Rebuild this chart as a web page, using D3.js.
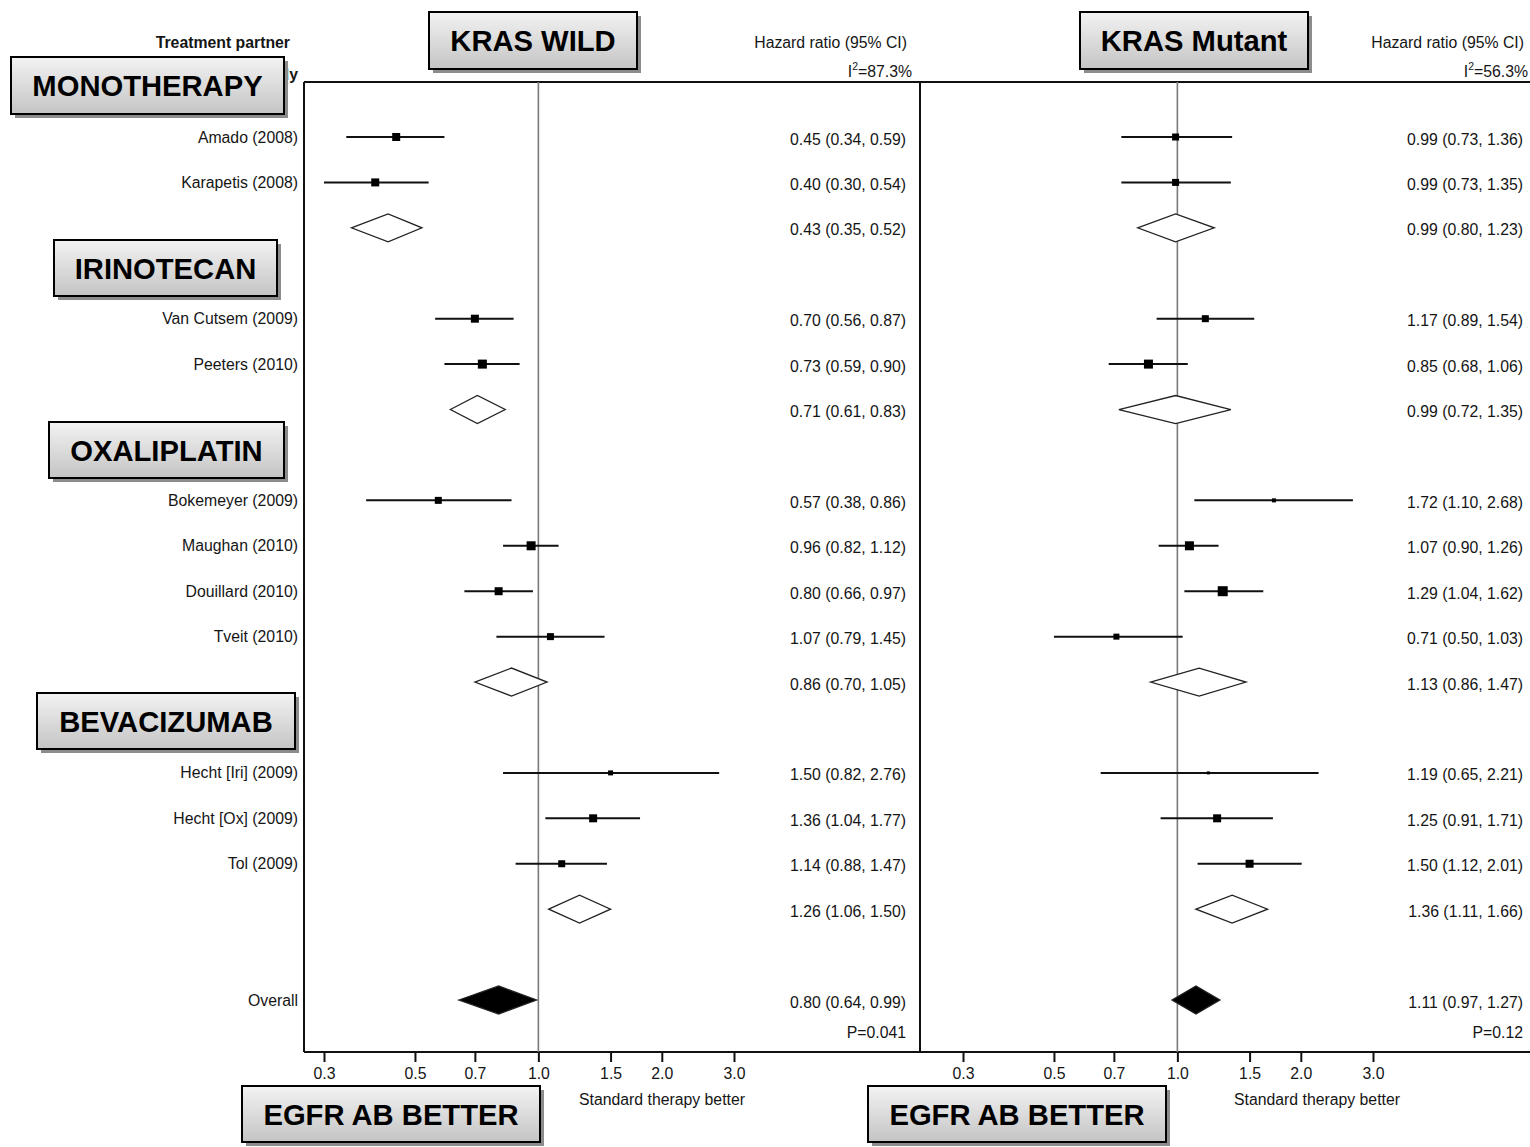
<!DOCTYPE html>
<html>
<head>
<meta charset="utf-8">
<script src="https://cdn.jsdelivr.net/npm/d3@7"></script>
<style>
  html, body { margin: 0; padding: 0; background: #ffffff; }
  svg { display: block; }
  text { font-family: "Liberation Sans", Arial, sans-serif; }
</style>
</head>
<body>
<svg id="chart" width="1530" height="1147"></svg>
<script>
// ---------------- DATA ----------------
const rowIndex = [0, 1, 2, 4, 5, 6, 8, 9, 10, 11, 12, 14, 15, 16, 17, 19];
const rowLabel = ["Amado (2008)", "Karapetis (2008)", "", "Van Cutsem (2009)", "Peeters (2010)", "",
  "Bokemeyer (2009)", "Maughan (2010)", "Douillard (2010)", "Tveit (2010)", "",
  "Hecht [Iri] (2009)", "Hecht [Ox] (2009)", "Tol (2009)", "", "Overall"];
const rowType = ["study", "study", "pooled", "study", "study", "pooled",
  "study", "study", "study", "study", "pooled",
  "study", "study", "study", "pooled", "overall"];

const wildHR = [0.45, 0.40, 0.43, 0.70, 0.73, 0.71, 0.57, 0.96, 0.80, 1.07, 0.86, 1.50, 1.36, 1.14, 1.26, 0.80];
const wildLo = [0.34, 0.30, 0.35, 0.56, 0.59, 0.61, 0.38, 0.82, 0.66, 0.79, 0.70, 0.82, 1.04, 0.88, 1.06, 0.64];
const wildHi = [0.59, 0.54, 0.52, 0.87, 0.90, 0.83, 0.86, 1.12, 0.97, 1.45, 1.05, 2.76, 1.77, 1.47, 1.50, 0.99];
const wildWeight = [8, 8, 0, 8, 9, 0, 7, 9, 8, 7, 0, 5, 8, 7, 0, 0];

const mutHR = [0.99, 0.99, 0.99, 1.17, 0.85, 0.99, 1.72, 1.07, 1.29, 0.71, 1.13, 1.19, 1.25, 1.50, 1.36, 1.11];
const mutLo = [0.73, 0.73, 0.80, 0.89, 0.68, 0.72, 1.10, 0.90, 1.04, 0.50, 0.86, 0.65, 0.91, 1.12, 1.11, 0.97];
const mutHi = [1.36, 1.35, 1.23, 1.54, 1.06, 1.35, 2.68, 1.26, 1.62, 1.03, 1.47, 2.21, 1.71, 2.01, 1.66, 1.27];
const mutWeight = [7, 7, 0, 7, 9, 0, 4, 9, 10, 6, 0, 3, 8, 8, 0, 0];

const tickValues = [0.3, 0.5, 0.7, 1.0, 1.5, 2.0, 3.0];
const tickLabels = ["0.3", "0.5", "0.7", "1.0", "1.5", "2.0", "3.0"];

const wildI2 = "87.3%";
const mutI2 = "56.3%";
const wildP = "P=0.041";
const mutP = "P=0.12";

const boxLabels = ["KRAS WILD", "KRAS Mutant", "MONOTHERAPY", "IRINOTECAN", "OXALIPLATIN", "BEVACIZUMAB", "EGFR AB BETTER", "EGFR AB BETTER"];

// ---------------- LAYOUT ----------------
const svg = d3.select("#chart");
const TXT = "#151515";
const FS = 15.8;
const axisY = 1052, topY = 82;
const leftX = 304, sepX = 920;

const yRow = d3.scaleLinear().domain([0, 19]).range([137, 1000]);

const panels = [
  { x: d3.scaleLog().domain([0.3, 3]).range([324, 734]), hr: wildHR, lo: wildLo, hi: wildHi, w: wildWeight,
    valueX: 906, i2: wildI2, i2X: 912, p: wildP, betterX: 662 },
  { x: d3.scaleLog().domain([0.3, 3]).range([963, 1373]), hr: mutHR, lo: mutLo, hi: mutHi, w: mutWeight,
    valueX: 1523, i2: mutI2, i2X: 1528, p: mutP, betterX: 1317 }
];

// gradient for label boxes
const defs = svg.append("defs");
const grad = defs.append("linearGradient").attr("id", "boxGrad").attr("x1", 0).attr("y1", 0).attr("x2", 0).attr("y2", 1);
grad.append("stop").attr("offset", "0%").attr("stop-color", "#f3f3f3");
grad.append("stop").attr("offset", "100%").attr("stop-color", "#c4c4c4");

// frame
const frame = svg.append("g");
frame.append("line").attr("x1", leftX).attr("x2", 1530).attr("y1", topY).attr("y2", topY).attr("stroke", "#111").attr("stroke-width", 2);
frame.append("line").attr("x1", leftX).attr("x2", 1530).attr("y1", axisY).attr("y2", axisY).attr("stroke", "#111").attr("stroke-width", 2);
frame.append("line").attr("x1", leftX).attr("x2", leftX).attr("y1", topY).attr("y2", axisY).attr("stroke", "#111").attr("stroke-width", 2);
frame.append("line").attr("x1", sepX).attr("x2", sepX).attr("y1", topY).attr("y2", axisY).attr("stroke", "#111").attr("stroke-width", 2);

// headers
svg.append("text").attr("x", 290).attr("y", 48).attr("text-anchor", "end")
  .attr("font-size", FS).attr("font-weight", "bold").attr("fill", TXT).text("Treatment partner");
svg.append("text").attr("x", 298).attr("y", 80).attr("text-anchor", "end")
  .attr("font-size", FS).attr("font-weight", "bold").attr("fill", TXT).text("Study");

// study labels
const data = rowIndex.map((r, i) => ({ r, i, label: rowLabel[i], type: rowType[i] }));
svg.append("g").selectAll("text").data(data.filter(d => d.label)).join("text")
  .attr("x", 298).attr("y", d => yRow(d.r)).attr("dy", "0.35em")
  .attr("text-anchor", "end").attr("font-size", FS).attr("fill", TXT).text(d => d.label);

const fmt = d3.format(".2f");

panels.forEach(p => {
  const g = svg.append("g");
  // reference line at 1
  g.append("line").attr("x1", p.x(1)).attr("x2", p.x(1)).attr("y1", topY).attr("y2", axisY)
    .attr("stroke", "#7a7a7a").attr("stroke-width", 1.6);

  // header
  g.append("text").attr("x", p.valueX + 1).attr("y", 48).attr("text-anchor", "end")
    .attr("font-size", FS).attr("fill", TXT).text("Hazard ratio (95% CI)");
  const i2 = g.append("text").attr("x", p.i2X).attr("y", 77).attr("text-anchor", "end")
    .attr("font-size", FS).attr("fill", TXT);
  i2.append("tspan").text("I");
  i2.append("tspan").attr("dy", -7).attr("font-size", 10.5).text("2");
  i2.append("tspan").attr("dy", 7).text("=" + p.i2);

  // CI lines for studies
  const studies = data.filter(d => d.type === "study");
  g.selectAll("line.ci").data(studies).join("line").attr("class", "ci")
    .attr("x1", d => p.x(p.lo[d.i])).attr("x2", d => p.x(p.hi[d.i]))
    .attr("y1", d => yRow(d.r)).attr("y2", d => yRow(d.r))
    .attr("stroke", "#111").attr("stroke-width", 2);
  g.selectAll("rect.pt").data(studies).join("rect").attr("class", "pt")
    .attr("x", d => p.x(p.hr[d.i]) - p.w[d.i] / 2).attr("y", d => yRow(d.r) - p.w[d.i] / 2)
    .attr("width", d => p.w[d.i]).attr("height", d => p.w[d.i]).attr("fill", "#000");

  // diamonds
  const pooled = data.filter(d => d.type !== "study");
  g.selectAll("path.dia").data(pooled).join("path").attr("class", "dia")
    .attr("d", d => {
      const y = yRow(d.r), h = 14;
      return `M${p.x(p.lo[d.i])},${y}L${p.x(p.hr[d.i])},${y - h}L${p.x(p.hi[d.i])},${y}L${p.x(p.hr[d.i])},${y + h}Z`;
    })
    .attr("fill", d => d.type === "overall" ? "#000" : "#fff")
    .attr("stroke", "#222").attr("stroke-width", 1.3);

  // values
  g.selectAll("text.val").data(data).join("text").attr("class", "val")
    .attr("x", p.valueX).attr("y", d => yRow(d.r) + 2).attr("dy", "0.35em")
    .attr("text-anchor", "end").attr("font-size", FS).attr("fill", TXT)
    .text(d => `${fmt(p.hr[d.i])} (${fmt(p.lo[d.i])}, ${fmt(p.hi[d.i])})`);

  g.append("text").attr("x", p.valueX).attr("y", 1038).attr("text-anchor", "end")
    .attr("font-size", FS).attr("fill", TXT).text(p.p);

  // axis
  const axis = d3.axisBottom(p.x).tickValues(tickValues).tickSize(10).tickPadding(6)
    .tickFormat((d, i) => tickLabels[i]);
  const ag = g.append("g").attr("transform", `translate(0,${axisY})`).call(axis);
  ag.select(".domain").remove();
  ag.selectAll(".tick line").attr("stroke", "#111").attr("stroke-width", 2);
  ag.selectAll(".tick text").attr("font-size", FS).attr("fill", TXT)
    .attr("font-family", "'Liberation Sans', Arial, sans-serif");

  g.append("text").attr("x", p.betterX).attr("y", 1105).attr("text-anchor", "middle")
    .attr("font-size", FS).attr("fill", TXT).text("Standard therapy better");
});

// label boxes
const boxX = [429, 1080, 11, 54, 49, 37, 242, 868];
const boxY = [12, 12, 57, 240, 422, 693, 1086, 1086];
const boxW = [208, 228, 273, 223, 235, 258, 298, 298];
const boxH = [57, 57, 57, 56, 56, 56, 56, 56];
const boxes = boxLabels.map((t, i) => ({ t, x: boxX[i], y: boxY[i], w: boxW[i], h: boxH[i] }));
const bg = svg.append("g").selectAll("g").data(boxes).join("g");
bg.append("rect").attr("x", d => d.x + 4).attr("y", d => d.y + 4).attr("width", d => d.w).attr("height", d => d.h)
  .attr("fill", "#8c8c8c");
bg.append("rect").attr("x", d => d.x).attr("y", d => d.y).attr("width", d => d.w).attr("height", d => d.h)
  .attr("fill", "url(#boxGrad)").attr("stroke", "#000").attr("stroke-width", 2);
bg.append("text").attr("x", d => d.x + d.w / 2).attr("y", d => d.y + d.h / 2).attr("dy", "0.36em")
  .attr("text-anchor", "middle").attr("font-size", 29.2).attr("font-weight", "bold").attr("fill", "#000")
  .text(d => d.t);
</script>
</body>
</html>
